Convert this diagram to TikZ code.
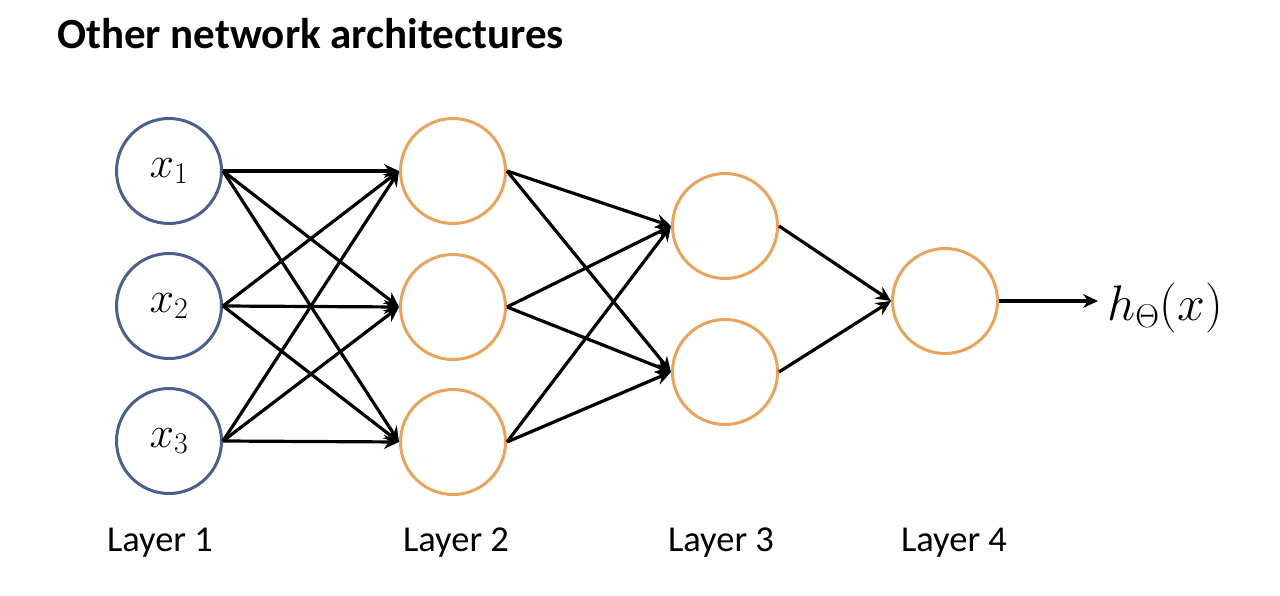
\RequirePackage{fix-cm}
\documentclass[tikz,border=0pt]{standalone}
\usepackage{fontspec}
\setmainfont{Carlito}
\usetikzlibrary{arrows.meta}
\newcommand\mysub[2]{\hbox{\fontsize{#1}{#1}\selectfont$#2$}}
\definecolor{inblue}{HTML}{4A5F8C}
\definecolor{hidorange}{HTML}{E8A45C}
\begin{document}
\begin{tikzpicture}[x=1pt,y=-1pt,
  neuron/.style={circle, minimum size=105pt, inner sep=0pt, line width=3pt},
  inp/.style={neuron, draw=inblue, font=\fontsize{44}{50}\selectfont},
  hid/.style={neuron, draw=hidorange},
  arr/.style={line width=3.2pt, -{Stealth[length=15pt,width=14pt,inset=5pt]}},
  lab/.style={font=\fontsize{36.5}{44}\selectfont, anchor=base, inner sep=0pt},
]
\useasboundingbox (0,0) rectangle (1280,596);
\node[anchor=base west, inner sep=0pt, font=\fontsize{43}{50}\selectfont\bfseries] (title) at (57,49) {Other network architectures};

\node[inp] (a1) at (169,171) {$x_{\mysub{30}{1}}$};
\node[inp] (a2) at (169,306) {$x_{\mysub{30}{2}}$};
\node[inp] (a3) at (169,441) {$x_{\mysub{30}{3}}$};

\node[hid] (b1) at (453,171) {};
\node[hid] (b2) at (453,307) {};
\node[hid] (b3) at (453,442) {};

\node[hid] (c1) at (725,226) {};
\node[hid] (c2) at (725,372) {};

\node[hid] (d1) at (945,301) {};

\node[anchor=base west, inner sep=0pt, font=\fontsize{50}{58}\selectfont] (out) at (1107,320) {$h_{\mysub{33}{\Theta}}(x)$};

\foreach \s in {a1,a2,a3}{
  \foreach \t in {b1,b2,b3}{
    \draw[arr] (\s.east) -- (\t.west);
  }
}
\foreach \s in {b1,b2,b3}{
  \foreach \t in {c1,c2}{
    \draw[arr] (\s.east) -- (\t.west);
  }
}
\foreach \s in {c1,c2}{
  \draw[arr] (\s.east) -- (d1.west);
}
\draw[arr] (d1.east) -- ([xshift=-9pt]out.west |- d1.east);

\node[lab] (l1) at (160,551) {Layer 1};
\node[lab] (l2) at (456,551) {Layer 2};
\node[lab] (l3) at (721,551) {Layer 3};
\node[lab] (l4) at (954,551) {Layer 4};
\end{tikzpicture}
\end{document}
